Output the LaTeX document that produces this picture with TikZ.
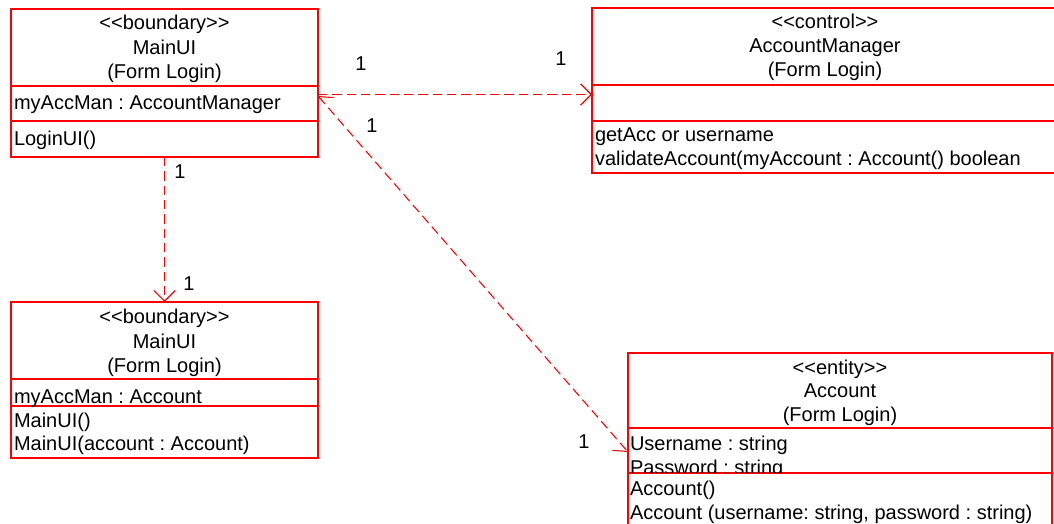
\documentclass[tikz,border=0pt]{standalone}
\usepackage{fontspec}
\setmainfont{Liberation Sans}
\usetikzlibrary{arrows.meta}
\definecolor{umlred}{RGB}{255,0,0}
\newcommand{\stereo}[1]{<\kern0pt<#1>\kern0pt>}
\tikzset{
  umlbox/.style={draw=umlred, line width=1.1pt, rectangle, anchor=north west, inner sep=0pt, outer sep=0pt},
  sepline/.style={draw=umlred, line width=1.1pt},
  txt/.style={inner sep=0pt, outer sep=0pt, anchor=base west, font=\fontsize{15}{18}\selectfont\frenchspacing},
  ctxt/.style={inner sep=0pt, outer sep=0pt, anchor=base, font=\fontsize{15}{18}\selectfont\frenchspacing},
  mult/.style={inner sep=0pt, outer sep=0pt, anchor=base, font=\fontsize{15}{18}\selectfont},
  assoc/.style={draw=umlred, line width=0.8pt, dash pattern=on 7pt off 3.75pt, -{Straight Barb[length=8pt,width=16pt]}}
}
\begin{document}
\begin{tikzpicture}[x=0.75pt,y=-0.75pt]
\useasboundingbox (0,0) rectangle (1054,524);
\clip (0,0) rectangle (1054,524);
\fill[white] (0,0) rectangle (1054,524);

% Box 1: MainUI (top)
\node[umlbox, minimum width=230.25pt, minimum height=111pt] (b1) at (11,9) {};
\draw[sepline] (11,86) -- (318,86);
\draw[sepline] (11,121) -- (318,121);
\node[ctxt] (b1s) at (164.5,30) {\stereo{boundary}};
\node[ctxt] (b1n) at (164.5,55) {MainUI};
\node[ctxt] (b1f) at (164.5,79) {(Form Login)};
\node[txt] (b1a) at (14,110) {myAccMan : AccountManager};
\node[txt] (b1o) at (14,146) {LoginUI()};

% Box 2: AccountManager
\node[umlbox, minimum width=352.5pt, minimum height=123.75pt] (b2) at (592,8) {};
\draw[sepline] (592,85) -- (1060,85);
\draw[sepline] (592,121) -- (1060,121);
\node[ctxt] (b2s) at (825,29) {\stereo{control}};
\node[ctxt] (b2n) at (825,53) {AccountManager};
\node[ctxt] (b2f) at (825,77) {(Form Login)};
\node[txt] (b2o1) at (595,142) {getAcc or username};
\node[txt] (b2o2) at (595,166) {validateAccount(myAccount : Account() boolean};

% Box 3: MainUI (bottom)
\node[umlbox, minimum width=230.25pt, minimum height=117pt] (b3) at (11,302) {};
\draw[sepline] (11,379) -- (318,379);
\draw[sepline] (11,406) -- (318,406);
\node[ctxt] (b3s) at (164.5,323) {\stereo{boundary}};
\node[ctxt] (b3n) at (164.5,348) {MainUI};
\node[ctxt] (b3f) at (164.5,372) {(Form Login)};
\node[txt] (b3a) at (14,403) {myAccMan : Account};
\node[txt] (b3o1) at (14,427) {MainUI()};
\node[txt] (b3o2) at (14,450) {MainUI(account : Account)};

% Box 4: Account
\node[umlbox, minimum width=318pt, minimum height=135pt] (b4) at (628,353) {};
\draw[sepline] (628,428) -- (1052,428);
\draw[sepline] (628,473) -- (1052,473);
\node[ctxt] (b4s) at (840,374) {\stereo{entity}};
\node[ctxt] (b4n) at (840,397) {Account};
\node[ctxt] (b4f) at (840,421) {(Form Login)};
\begin{scope}
\clip (628,428) rectangle (1052,472.5);
\node[txt] (b4a1) at (630,450) {Username : string};
\node[txt] (b4a2) at (630,474) {Password : string};
\end{scope}
\node[txt] (b4o1) at (630,495) {Account()};
\node[txt] (b4o2) at (630,519) {Account (username: string, password : string)};

% Connector end points on the box borders
\coordinate (p1h) at (b1.east |- 0,94.5);
\coordinate (p2h) at (b2.west |- 0,94.5);
\coordinate (p1d) at (b1.east |- 0,96);
\coordinate (p4d) at (b4.west |- 0,452);
\coordinate (p1v) at (b1.south -| 164.5,0);
\coordinate (p3v) at (b3.north -| 164.5,0);

% Connectors
\draw[assoc] (p1h) -- (p2h);
\draw[assoc, {Straight Barb[length=8pt,width=16pt]}-{Straight Barb[length=8pt,width=16pt]}] (p1d) -- (p4d);
\draw[assoc] (p1v) -- (p3v);

% Multiplicities
\node[mult] (m1) at (361,71) {1};
\node[mult] (m2) at (561,66) {1};
\node[mult] (m3) at (372,133) {1};
\node[mult] (m4) at (584,448) {1};
\node[mult] (m5) at (180,179) {1};
\node[mult] (m6) at (189,291) {1};
\end{tikzpicture}
\end{document}
